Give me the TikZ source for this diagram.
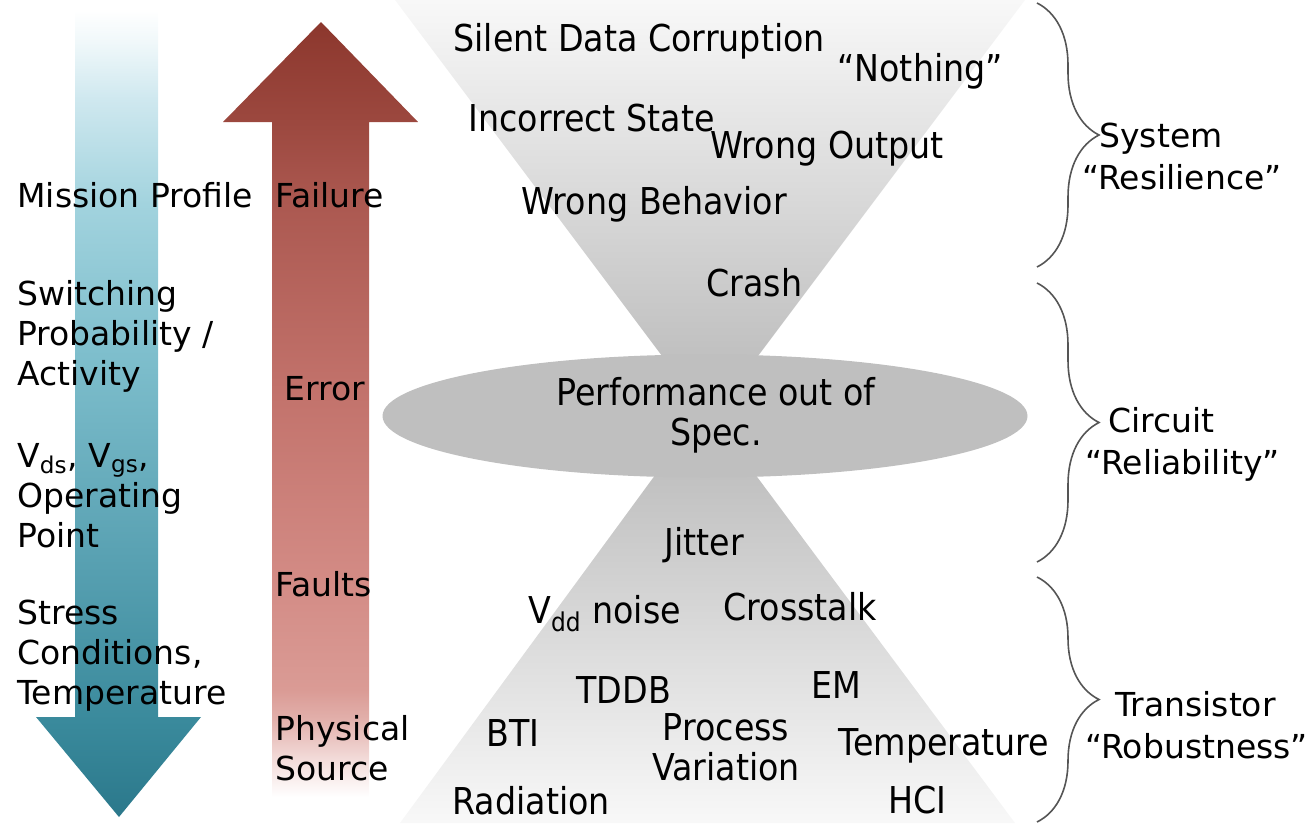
\documentclass[tikz,border=0pt]{standalone}
\usepackage{fontspec}
\setmainfont{DejaVu Sans}
\newfontfamily\narrowfont[FakeStretch=0.9]{DejaVu Sans}
\usetikzlibrary{shapes.geometric,positioning,decorations.pathreplacing}

\definecolor{tealA}{HTML}{2B788B}
\definecolor{tealB}{HTML}{3A8A9C}
\definecolor{tealC}{HTML}{5AA2B3}
\definecolor{tealD}{HTML}{7FBFCD}
\definecolor{tealE}{HTML}{A2D3DE}
\definecolor{tealF}{HTML}{CFE8EF}
\definecolor{tealG}{HTML}{F0F8FA}
\definecolor{redA}{HTML}{8C372D}
\definecolor{redB}{HTML}{9C483F}
\definecolor{redC}{HTML}{AB5850}
\definecolor{redD}{HTML}{C2726B}
\definecolor{redE}{HTML}{D38B85}
\definecolor{redF}{HTML}{DA9B95}
\definecolor{redG}{HTML}{E2B0AB}
\definecolor{redH}{HTML}{F3DCDA}
\definecolor{hgLight}{HTML}{F8F8F8}
\definecolor{hgDark}{HTML}{B6B6B6}
\definecolor{ellgray}{HTML}{BFBFBF}
\definecolor{bracegray}{HTML}{555555}

\pgfdeclareverticalshading{bluefade}{100bp}{color(0bp)=(tealA); color(25bp)=(tealA);
  color(31bp)=(tealB); color(41.5bp)=(tealC); color(54bp)=(tealD); color(63bp)=(tealE);
  color(69.5bp)=(tealF); color(73bp)=(tealG); color(75bp)=(white); color(100bp)=(white)}
\pgfdeclareverticalshading{redfade}{100bp}{color(0bp)=(white); color(25bp)=(white);
  color(27.4bp)=(redH); color(30bp)=(redG); color(31.9bp)=(redF); color(39bp)=(redE);
  color(51.3bp)=(redD); color(63.5bp)=(redC); color(68.5bp)=(redB); color(75bp)=(redA);
  color(100bp)=(redA)}

\begin{document}
\begin{tikzpicture}[x=0.5pt,y=-0.5pt,
    lbl/.style={anchor=west,inner sep=0pt,align=left,font=\fontsize{16.5}{20}\selectfont},
    midlbl/.style={anchor=west,inner sep=0pt,align=center,font=\narrowfont\fontsize{18.5}{20}\selectfont},
    sidelbl/.style={anchor=west,inner sep=0pt,align=left,font=\fontsize{16.5}{21}\selectfont},
    bracket/.style={decorate,decoration={brace,amplitude=31pt},draw=bracegray,line width=0.8pt}]
  \useasboundingbox (0,0) rectangle (1316,825);

  % hourglass
  \shade[top color=hgLight,bottom color=hgDark] (395,0) -- (1025,0) -- (710,420) -- cycle;
  \shade[top color=hgDark,bottom color=hgLight] (705,407) -- (1015,823) -- (400,823) -- cycle;
  \node[ellipse,fill=ellgray,minimum width=322.5pt,minimum height=61.5pt,inner sep=0pt] (perf) at (705,416) {};
  \node[midlbl,anchor=center] (perftext) at (716,415) {Performance out of\\Spec.};

  % the two arrows
  \shade[shading=bluefade] (75,10) -- (158,10) -- (158,717) -- (201,717) -- (119,817)
    -- (36,717) -- (75,717) -- cycle;
  \shade[shading=redfade] (272,797) -- (272,122) -- (223,122) -- (321,22) -- (418,122)
    -- (369,122) -- (369,797) -- cycle;

  % left side
  \node[lbl] (mission) at (17,195) {Mission Profile};
  \node[lbl] (switching) at (17,336) {Switching\\Probability /\\Activity};
  \node[lbl] (vds) at (17,496) {V\textsubscript{ds}, V\textsubscript{gs},\\Operating\\Point};
  \node[lbl] (stress) at (17,656) {Stress\\Conditions,\\Temperature};
  \node[lbl] (failure) at (275,195) {Failure};
  \node[lbl] (error) at (284,389) {Error};
  \node[lbl] (faults) at (275,584) {Faults};
  \node[lbl] (physical) at (275,748) {Physical\\Source};

  % upper part
  \node[midlbl] (sdc) at (453,41) {Silent Data Corruption};
  \node[midlbl] (nothing) at (837,71) {“Nothing”};
  \node[midlbl] (incorrect) at (468,118) {Incorrect State};
  \node[midlbl] (wrongout) at (710,149) {Wrong Output};
  \node[midlbl] (wrongbeh) at (521,204) {Wrong Behavior};
  \node[midlbl] (crash) at (706,283) {Crash};

  % lower part
  \node[midlbl] (jitter) at (664,545) {Jitter};
  \node[midlbl] (vdd) at (528,614) {V\textsubscript{dd} noise};
  \node[midlbl] (crosstalk) at (723,607) {Crosstalk};
  \node[midlbl] (tddb) at (576,690) {TDDB};
  \node[midlbl] (em) at (811,685) {EM};
  \node[midlbl] (bti) at (486,733) {BTI};
  \node[midlbl,anchor=center] (process) at (726,747) {Process\\Variation};
  \node[midlbl] (temp) at (838,746) {Temperature};
  \node[midlbl] (radiation) at (452,801) {Radiation};
  \node[midlbl] (hci) at (888,800) {HCI};

  % braces
  \coordinate (b1t) at (1037,3);
  \coordinate (b1b) at (1037,267);
  \coordinate (b2t) at (1037,283);
  \coordinate (b2b) at (1037,562);
  \coordinate (b3t) at (1037,577);
  \coordinate (b3b) at (1037,822);
  \draw[bracket] (b1t) -- (b1b);
  \draw[bracket] (b2t) -- (b2b);
  \draw[bracket] (b3t) -- (b3b);
  \node[sidelbl] (system) at (1082,156) {\hspace*{8.5pt}System\\“Resilience”};
  \node[sidelbl] (circuit) at (1085,444) {\hspace*{11.5pt}Circuit\\“Reliability”};
  \node[sidelbl] (transistor) at (1085,725) {\hspace*{15pt}Transistor\\“Robustness”};
\end{tikzpicture}
\end{document}
